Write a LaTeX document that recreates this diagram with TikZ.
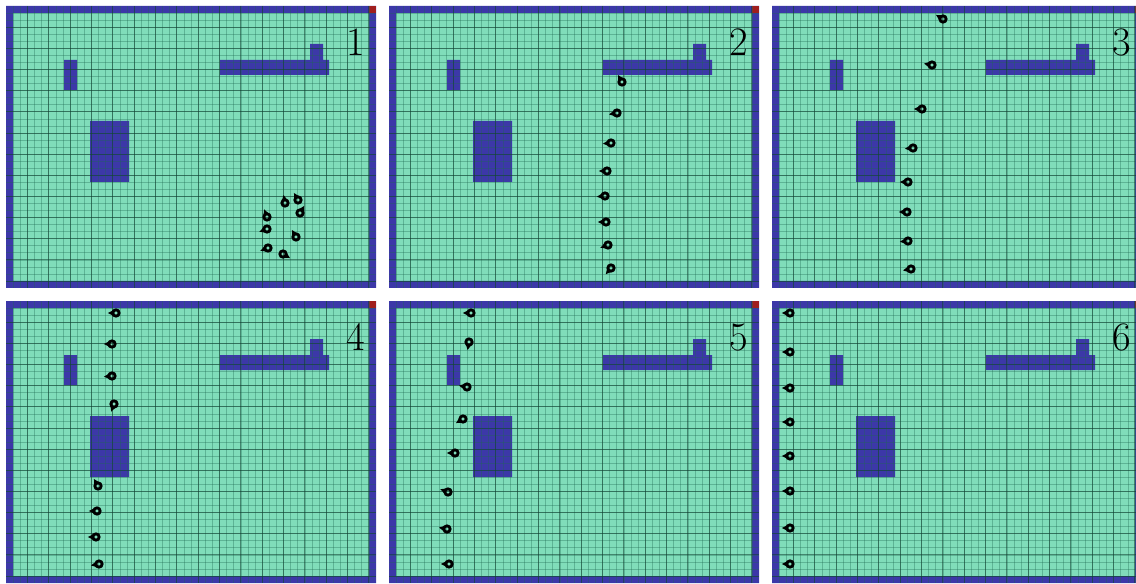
\documentclass[tikz,border=0pt]{standalone}
\definecolor{floorgreen}{RGB}{128,221,186}
\definecolor{wallblue}{RGB}{60,56,168}
\definecolor{gridgreen}{RGB}{30,105,80}
\definecolor{cornerred}{RGB}{160,30,30}
\begin{document}
\begin{tikzpicture}[x=0.02cm,y=-0.02cm,
  every node/.style={font=\fontsize{23}{25}\selectfont,inner sep=0pt},
  floormap/.pic={
    \fill[floorgreen] (0,0) rectangle (370,282);
    % walls
    \fill[wallblue] (0,0) rectangle (370,7) (0,275) rectangle (370,282)
      (0,0) rectangle (7,282) (363,0) rectangle (370,282);
    \fill[cornerred] (363,0) rectangle (370,7);
    % obstacles
    \fill[wallblue] (58,54) rectangle (71,84) (84,115) rectangle (123,176)
      (214,54) rectangle (323,69) (304,38) rectangle (317,54);
    \foreach \i in {1,...,51} \draw[gridgreen,opacity=.35,line width=.3pt] (\i*7.115,0) -- (\i*7.115,282);
    \foreach \j in {1,...,39} \draw[gridgreen,opacity=.35,line width=.3pt] (0,\j*7.05) -- (370,\j*7.05);
    \foreach \i in {3,6,...,51} \draw[gridgreen!60!black,opacity=.55,line width=.45pt] (\i*7.115,0) -- (\i*7.115,282);
    \foreach \j in {3,6,...,39} \draw[gridgreen!60!black,opacity=.55,line width=.45pt] (0,\j*7.05) -- (370,\j*7.05);
  },
  robot/.pic={
    \draw[line width=1.6pt] (0,0) circle[radius=1.8pt];
    \fill[rotate=#1] (-45:2.2pt) -- (0:4.6pt) -- (45:2.2pt) -- cycle;
  }]
  \useasboundingbox (0,0) rectangle (1136,584);
  \clip (0,0) rectangle (1136,584);
  % panel 1
  \begin{scope}[shift={(6,6)}]
    \pic at (0,0) {floormap};
    \foreach \ax/\ay/\aa in {292/194/120,279/197/100,294/207/60,261/211/110,261/223/200,290/231/120,262/242/200,277/248/330}
      \pic at (\ax,\ay) {robot=\aa};
    \node (lab1) at (350,36) {1};
  \end{scope}
  % panel 2
  \begin{scope}[shift={(389,6)}]
    \pic at (0,0) {floormap};
    \foreach \ax/\ay/\aa in {233/76/120,228/107/190,222/137/185,218/165/180,216/190/185,217/216/180,219/239/200,222/262/230}
      \pic at (\ax,\ay) {robot=\aa};
    \node (lab2) at (350,36) {2};
  \end{scope}
  % panel 3
  \begin{scope}[shift={(772,6)}]
    \pic at (0,0) {floormap};
    \foreach \ax/\ay/\aa in {171/13/150,160/59/170,150/103/180,141/142/185,136/176/180,135/206/180,136/235/185,139/263/190}
      \pic at (\ax,\ay) {robot=\aa};
    \node (lab3) at (350,36) {3};
  \end{scope}
  % panel 4
  \begin{scope}[shift={(6,301)}]
    \pic at (0,0) {floormap};
    \foreach \ax/\ay/\aa in {110/12/180,106/43/180,106/75/185,108/103/250,92/185/120,91/210/180,90/236/180,93/263/190}
      \pic at (\ax,\ay) {robot=\aa};
    \node (lab4) at (350,36) {4};
  \end{scope}
  % panel 5
  \begin{scope}[shift={(389,301)}]
    \pic at (0,0) {floormap};
    \foreach \ax/\ay/\aa in {82/12/180,80/41/260,78/86/170,74/118/210,66/152/180,59/191/160,58/228/170,60/263/180}
      \pic at (\ax,\ay) {robot=\aa};
    \node (lab5) at (350,36) {5};
  \end{scope}
  % panel 6
  \begin{scope}[shift={(772,301)}]
    \pic at (0,0) {floormap};
    \foreach \ay in {12,51,87,121,155,190,227,263}
      \pic at (18,\ay) {robot=180};
    \node (lab6) at (350,36) {6};
  \end{scope}
\end{tikzpicture}
\end{document}
